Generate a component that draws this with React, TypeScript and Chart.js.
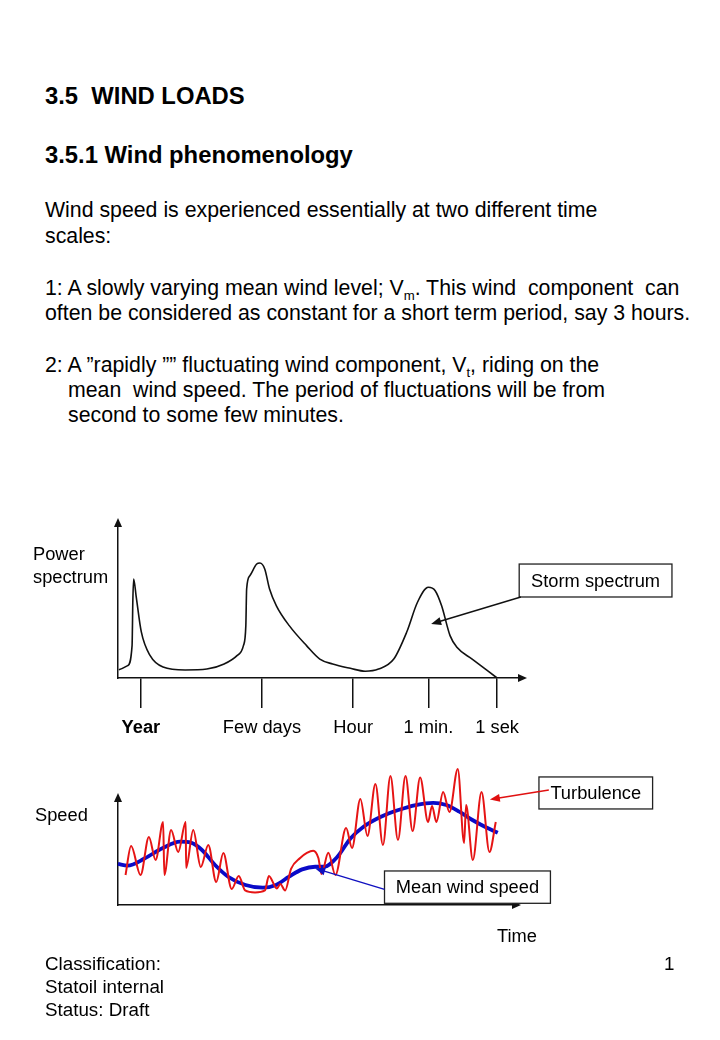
import React, { useEffect, useRef } from "react";
import { Chart, registerables } from "chart.js";

Chart.register(...registerables);

const FONT = '"Liberation Sans", Arial, Helvetica, sans-serif';

// ---------- Power spectrum diagram (arbitrary units) ----------
const spectrumX = [0.2, 2.4, 3.5, 3.7, 3.9, 4.5, 5.8, 8.0, 11.2, 16.7, 22.1, 26.4, 29.6, 31.2, 31.8, 32.0, 32.8, 34.5, 35.3, 36.5, 37.7, 39.4, 42.6, 46.9, 50.2, 53.4, 57.8, 61.5, 64.8, 68.6, 71.8, 74.5, 77.2, 78.9, 80.5, 82.6, 84.3, 88.1, 94.3];
const spectrumY = [5.4, 8.0, 21.0, 51.3, 64.3, 53.4, 29.9, 14.5, 7.1, 5.2, 5.8, 9.1, 14.5, 21.0, 34.0, 57.8, 66.4, 74.0, 74.7, 70.8, 57.8, 46.9, 34.0, 21.0, 12.3, 9.1, 6.3, 4.4, 5.8, 12.3, 29.7, 49.2, 58.9, 56.7, 46.9, 27.5, 19.9, 12.3, 0];
const spectrumTickValues = [5.7, 35.8, 58.5, 77.2, 94.3];
const spectrumTickLabels = ["Year", "Few days", "Hour", "1 min.", "1 sek"];

// ---------- Speed vs time diagram (arbitrary units) ----------
const meanX = [0, 2.4, 6.8, 11.2, 15.7, 18.4, 21.2, 24.5, 27.8, 32.2, 36.6, 39.9, 43.2, 46.5, 49.8, 52.0, 55.4, 58.7, 62.0, 66.4, 70.8, 75.2, 79.6, 82.9, 86.2, 89.5, 92.9, 95.9];
const meanY = [38.7, 37.1, 44.1, 53.5, 59.7, 58.8, 51.9, 37.7, 26.7, 18.9, 16.3, 18.9, 26.7, 33.6, 36.1, 36.1, 45.5, 62.8, 73.8, 83.2, 89.6, 94.3, 96.4, 94.3, 88.0, 80.2, 73.3, 68.1];
const turbX = [1.9, 3.3, 5.7, 7.8, 9.5, 11.4, 11.7, 13.4, 15.2, 17.1, 17.2, 19.0, 20.9, 22.8, 24.8, 26.6, 28.7, 30.5, 32.1, 34.6, 37.1, 38.1, 40.1, 41.0, 42.2, 43.7, 46.0, 47.7, 49.3, 50.6, 51.4, 53.1, 54.9, 57.6, 59.1, 61.2, 63.0, 65.0, 66.9, 68.8, 70.7, 72.6, 74.4, 76.3, 78.3, 79.3, 80.4, 82.1, 83.7, 85.8, 87.4, 87.9, 89.6, 91.8, 93.8, 95.4];
const turbY = [28.3, 55.7, 28.3, 64.2, 42.5, 78.3, 28.3, 70.8, 50.0, 78.3, 34.9, 70.8, 35.8, 56.6, 21.7, 49.1, 15.1, 27.4, 13.7, 11.8, 13.7, 27.4, 15.6, 19.8, 13.7, 34.0, 44.3, 49.1, 51.2, 44.3, 29.2, 49.3, 28.3, 72.6, 53.8, 100.0, 65.1, 114.2, 56.6, 121.7, 61.3, 121.7, 69.8, 120.3, 78.3, 93.4, 78.3, 106.6, 87.7, 128.3, 58.5, 94.3, 42.5, 106.6, 50.0, 78.3];

// ---------- Annotations (in data units) ----------
const stormNote = { label: "Storm spectrum", box: [99.8, 74.0, 137.8, 52.6], from: [100.2, 52.6], to: [77.9, 35.1], color: "#111" };
const turbNote = { label: "Turbulence", box: [106.3, 120.8, 135.0, 90.6], from: [108.8, 108.5], to: [93.9, 99.6], color: "#e01010" };
const meanNote = { label: "Mean wind speed", box: [67.3, 32.1, 109.2, 1.6], from: [67.3, 14.7], to: [49.8, 34.5], color: "#1010c0" };

function head(ctx: CanvasRenderingContext2D, tx: number, ty: number, ang: number, len: number, half: number, color: string) {
  ctx.save();
  ctx.fillStyle = color;
  ctx.beginPath();
  ctx.moveTo(tx, ty);
  const bx = tx - len * Math.cos(ang);
  const by = ty - len * Math.sin(ang);
  ctx.lineTo(bx + half * Math.sin(ang), by - half * Math.cos(ang));
  ctx.lineTo(bx - half * Math.sin(ang), by + half * Math.cos(ang));
  ctx.closePath();
  ctx.fill();
  ctx.restore();
}

function drawNote(chart: any, note: any) {
  const { ctx, scales } = chart;
  const x = scales.x, y = scales.y;
  const x1 = x.getPixelForValue(note.box[0]);
  const y1 = y.getPixelForValue(note.box[1]);
  const x2 = x.getPixelForValue(note.box[2]);
  const y2 = y.getPixelForValue(note.box[3]);
  const fx = x.getPixelForValue(note.from[0]);
  const fy = y.getPixelForValue(note.from[1]);
  const tx = x.getPixelForValue(note.to[0]);
  const ty = y.getPixelForValue(note.to[1]);
  ctx.save();
  ctx.fillStyle = "#fff";
  ctx.fillRect(x1, y1, x2 - x1, y2 - y1);
  ctx.strokeStyle = "#222";
  ctx.lineWidth = 1.3;
  ctx.strokeRect(x1, y1, x2 - x1, y2 - y1);
  ctx.fillStyle = "#000";
  ctx.font = `18.3px ${FONT}`;
  ctx.textAlign = "center";
  ctx.textBaseline = "middle";
  ctx.fillText(note.label, (x1 + x2) / 2, (y1 + y2) / 2 + 1);
  const ang = Math.atan2(ty - fy, tx - fx);
  ctx.strokeStyle = note.color;
  ctx.lineWidth = 1.4;
  ctx.beginPath();
  ctx.moveTo(fx, fy);
  ctx.lineTo(tx - 6 * Math.cos(ang), ty - 6 * Math.sin(ang));
  ctx.stroke();
  ctx.restore();
  head(ctx, tx, ty, ang, 10, 4, note.color);
}

function axisArrows(chart: any) {
  const { ctx, chartArea: a } = chart;
  head(ctx, a.left, a.top - 6, -Math.PI / 2, 9, 4, "#111");
  head(ctx, a.right + 7, a.bottom, 0, 9, 4, "#111");
}

function label(ctx: CanvasRenderingContext2D, text: string, x: number, y: number) {
  ctx.save();
  ctx.fillStyle = "#000";
  ctx.font = `18.3px ${FONT}`;
  ctx.textAlign = "left";
  ctx.textBaseline = "middle";
  ctx.fillText(text, x, y);
  ctx.restore();
}

const spectrumDecor = {
  id: "spectrumDecor",
  afterDraw(chart: any) {
    const a = chart.chartArea;
    axisArrows(chart);
    label(chart.ctx, "Power", a.left - 85, a.top + 31);
    label(chart.ctx, "spectrum", a.left - 85, a.top + 54);
    drawNote(chart, stormNote);
  },
};

const speedDecor = {
  id: "speedDecor",
  afterDraw(chart: any) {
    const a = chart.chartArea;
    axisArrows(chart);
    label(chart.ctx, "Speed", a.left - 83, a.top + 17);
    label(chart.ctx, "Time", a.right - 17, a.bottom + 32);
    drawNote(chart, turbNote);
    drawNote(chart, meanNote);
  },
};

function makeSpectrum(canvas: HTMLCanvasElement) {
  return new Chart(canvas, {
    type: "line",
    data: {
      datasets: [
        {
          data: spectrumX.map((x, i) => ({ x, y: spectrumY[i] })),
          borderColor: "#111",
          borderWidth: 1.6,
          pointRadius: 0,
          cubicInterpolationMode: "monotone",
          fill: false,
          clip: false,
        } as any,
      ],
    },
    options: {
      responsive: false,
      animation: false,
      devicePixelRatio: 1,
      events: [],
      layout: { padding: { left: 118, right: 200, top: 24, bottom: 0 } },
      plugins: { legend: { display: false }, tooltip: { enabled: false } },
      scales: {
        x: {
          type: "linear",
          min: 0,
          max: 100,
          afterBuildTicks: (s: any) => {
            s.ticks = spectrumTickValues.map((v) => ({ value: v }));
          },
          afterFit: (s: any) => {
            s.height = 72;
          },
          grid: { display: true, drawOnChartArea: false, drawTicks: true, tickLength: 30, color: "#111", lineWidth: 1.5 },
          border: { display: true, color: "#111", width: 1.5 },
          ticks: {
            autoSkip: false,
            maxRotation: 0,
            padding: 9,
            color: "#000",
            font: (c: any) => ({ family: FONT, size: 18.3, weight: c.index === 0 ? "bold" : "normal" }),
            callback: (_v: any, i: number) => spectrumTickLabels[i],
          },
        },
        y: {
          type: "linear",
          min: 0,
          max: 100,
          afterFit: (s: any) => {
            s.width = 0;
          },
          grid: { display: false, drawTicks: false },
          ticks: { display: false },
          border: { display: true, color: "#111", width: 1.5 },
        },
      },
    } as any,
    plugins: [spectrumDecor],
  });
}

function makeSpeed(canvas: HTMLCanvasElement) {
  return new Chart(canvas, {
    type: "line",
    data: {
      datasets: [
        {
          label: "Turbulence",
          data: turbX.map((x, i) => ({ x, y: turbY[i] })),
          borderColor: "#e61414",
          borderWidth: 2,
          pointRadius: 0,
          cubicInterpolationMode: "monotone",
          fill: false,
          clip: false,
        } as any,
        {
          label: "Mean wind speed",
          data: meanX.map((x, i) => ({ x, y: meanY[i] })),
          borderColor: "#0a0ac8",
          borderWidth: 3.8,
          pointRadius: 0,
          cubicInterpolationMode: "monotone",
          fill: false,
          clip: false,
        } as any,
      ],
    },
    options: {
      responsive: false,
      animation: false,
      devicePixelRatio: 1,
      events: [],
      layout: { padding: { left: 118, right: 206, top: 39, bottom: 0 } },
      plugins: { legend: { display: false }, tooltip: { enabled: false } },
      scales: {
        x: {
          type: "linear",
          min: 0,
          max: 100,
          afterFit: (s: any) => {
            s.height = 55;
          },
          grid: { display: false, drawTicks: false },
          ticks: { display: false },
          border: { display: true, color: "#111", width: 1.5 },
        },
        y: {
          type: "linear",
          min: 0,
          max: 100,
          afterFit: (s: any) => {
            s.width = 0;
          },
          grid: { display: false, drawTicks: false },
          ticks: { display: false },
          border: { display: true, color: "#111", width: 1.5 },
        },
      },
    } as any,
    plugins: [speedDecor],
  });
}

function ChartCanvas({ make, top, width, height }: { make: (c: HTMLCanvasElement) => Chart; top: number; width: number; height: number }) {
  const ref = useRef<HTMLCanvasElement>(null);
  useEffect(() => {
    const chart = make(ref.current as HTMLCanvasElement);
    return () => chart.destroy();
  }, [make]);
  return (
    <canvas
      ref={ref}
      width={width}
      height={height}
      style={{ position: "absolute", left: 0, top, width, height, display: "block" }}
    />
  );
}

function Line({ top, left = 45, size = 21.3, lh = 25, bold = false, children }: any) {
  return (
    <div
      style={{
        position: "absolute",
        top,
        left,
        fontSize: size,
        lineHeight: `${lh}px`,
        fontWeight: bold ? "bold" : "normal",
        whiteSpace: "pre",
      }}
    >
      {children}
    </div>
  );
}

const sub = { fontSize: "0.62em", verticalAlign: "-0.35em", lineHeight: 0 } as const;

export default function App() {
  return (
    <div
      style={{
        position: "absolute",
        left: 0,
        top: 0,
        width: 720,
        height: 1040,
        background: "#fff",
        overflow: "hidden",
        fontFamily: FONT,
        color: "#000",
      }}
    >
      <Line top={82} size={23.8} lh={28} bold>
        {"3.5  WIND LOADS"}
      </Line>
      <Line top={141} size={23.8} lh={28} bold>
        {"3.5.1 Wind phenomenology"}
      </Line>
      <Line top={198}>{"Wind speed is experienced essentially at two different time"}</Line>
      <Line top={224}>{"scales:"}</Line>
      <Line top={276}>
        {"1: A slowly varying mean wind level; V"}
        <span style={sub}>m</span>
        {". This wind  component  can"}
      </Line>
      <Line top={301}>{"often be considered as constant for a short term period, say 3 hours."}</Line>
      <Line top={353}>
        {"2: A \u201drapidly \u201d\u201d fluctuating wind component, V"}
        <span style={sub}>t</span>
        {", riding on the"}
      </Line>
      <Line top={378} left={68}>{"mean  wind speed. The period of fluctuations will be from"}</Line>
      <Line top={403} left={68}>{"second to some few minutes."}</Line>

      <ChartCanvas make={makeSpectrum} top={500} width={720} height={250} />
      <ChartCanvas make={makeSpeed} top={760} width={720} height={200} />

      <Line top={952} size={18.8} lh={23}>{"Classification:"}</Line>
      <Line top={975} size={18.8} lh={23}>{"Statoil internal"}</Line>
      <Line top={998} size={18.8} lh={23}>{"Status: Draft"}</Line>
      <Line top={952} left={664} size={18.8} lh={23}>{"1"}</Line>
    </div>
  );
}
